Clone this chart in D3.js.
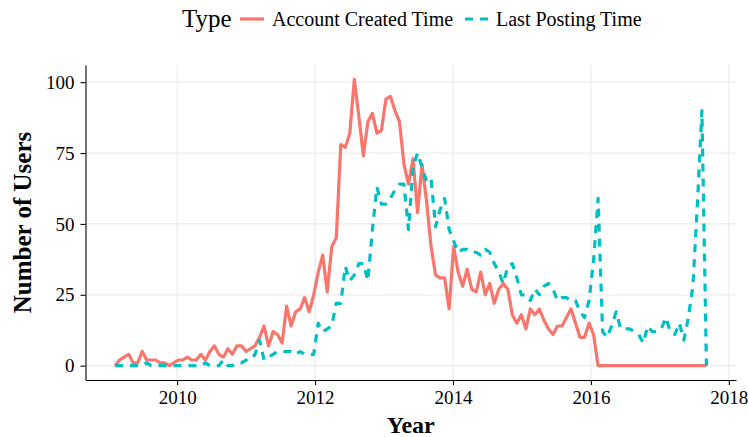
<!DOCTYPE html>
<html>
<head>
<meta charset="utf-8">
<script src="https://cdn.jsdelivr.net/npm/d3@7"></script>
<style>
  html, body { margin: 0; padding: 0; background: #ffffff; }
  svg { display: block; }
  text { font-family: "Liberation Serif", "Times New Roman", Times, serif; fill: #000; }
</style>
</head>
<body>
<svg id="chart" width="748" height="437"></svg>
<script>
// Frequency polygons of users over time, one bin every ~24 days.
const seriesNames = ["Account Created Time", "Last Posting Time"];
const seriesColors = ["#F8766D", "#00BFC4"];

const binStart = 2009.10;   // centre of the first bin (decimal year)
const binWidth = 0.06546;   // bin width in years

const createdCounts = [
  0, 2, 3, 4, 1, 1, 5, 2, 2, 2,
  1, 1, 0, 1, 2, 2, 3, 2, 2, 4,
  2, 5, 7, 4, 3, 6, 4, 7, 7, 5,
  6, 7, 10, 14, 7, 12, 11, 8, 21, 14,
  19, 20, 24, 19, 25, 33, 39, 26, 42, 45,
  78, 77, 82, 101, 88, 74, 86, 89, 82, 83,
  94, 95, 90, 86, 71, 64, 73, 54, 71, 58,
  42, 32, 31, 31, 20, 42, 33, 28, 34, 27,
  26, 33, 25, 29, 22, 27, 29, 27, 18, 15,
  18, 13, 20, 18, 20, 16, 13, 11, 14, 14,
  17, 20, 15, 10, 10, 15, 11, 0, 0, 0,
  0, 0, 0, 0, 0, 0, 0, 0, 0, 0,
  0, 0, 0, 0, 0, 0, 0, 0, 0, 0,
  0, 0
];

const lastPostCounts = [
  0, 0, 0, 0, 0, 0, 0, 1, 0, 0,
  0, 0, 0, 0, 0, 0, 0, 0, 0, 0,
  1, 0, 0, 0, 2, 0, 0, 1, 1, 2,
  2, 4, 9, 2, 3, 4, 5, 5, 5, 5,
  4, 5, 4, 4, 4, 15, 12, 13, 14, 22,
  22, 35, 30, 32, 36, 36, 30, 48, 63, 57,
  57, 59, 62, 64, 64, 48, 70, 75, 70, 65,
  66, 49, 55, 59, 48, 44, 40, 41, 41, 40,
  40, 39, 41, 40, 36, 33, 29, 35, 36, 31,
  25, 25, 23, 27, 25, 28, 29, 27, 23, 24,
  24, 23, 23, 19, 17, 23, 37, 59, 12, 10,
  14, 19, 13, 13, 13, 12, 11, 8, 14, 12,
  12, 13, 17, 12, 11, 15, 9, 17, 28, 57,
  90, 0
];

const xTicks = [2010, 2012, 2014, 2016, 2018];
const yTicks = [0, 25, 50, 75, 100];

const legendTitle = "Type";
const xTitle = "Year";
const yTitle = "Number of Users";

// ---- layout ----
const panel = { left: 85.5, right: 736, top: 65, bottom: 380 };

const binCentres = createdCounts.map((_, i) => binStart + i * binWidth);
const series = [createdCounts, lastPostCounts].map((vals, k) => ({
  name: seriesNames[k],
  color: seriesColors[k],
  points: vals.map((v, i) => ({ year: binCentres[i], value: v }))
}));

// ggplot-style 5% expansion on both axes
const xExt = d3.extent(binCentres);
const xPad = (xExt[1] - xExt[0]) * 0.05;
const yMax = d3.max(series, s => d3.max(s.points, p => p.value));
const yPad = yMax * 0.05;

const x = d3.scaleLinear()
  .domain([xExt[0] - xPad, xExt[1] + xPad])
  .range([panel.left, panel.right]);
const y = d3.scaleLinear()
  .domain([-yPad, yMax + yPad])
  .range([panel.bottom, panel.top]);

const svg = d3.select("#chart");
svg.append("rect").attr("width", 748).attr("height", 437).attr("fill", "#ffffff");

// grid
const grid = svg.append("g").attr("stroke", "#EBEBEB").attr("stroke-width", 1.2);
grid.selectAll("line.h").data(yTicks).join("line")
  .attr("x1", panel.left).attr("x2", panel.right)
  .attr("y1", d => y(d)).attr("y2", d => y(d));
grid.selectAll("line.v").data(xTicks).join("line")
  .attr("x1", d => x(d)).attr("x2", d => x(d))
  .attr("y1", panel.top).attr("y2", panel.bottom);

// lines
const line = d3.line().x(d => x(d.year)).y(d => y(d.value));
svg.append("g").selectAll("path").data(series).join("path")
  .attr("d", d => line(d.points))
  .attr("fill", "none")
  .attr("stroke", d => d.color)
  .attr("stroke-width", 3.2)
  .attr("stroke-linejoin", "round")
  .attr("stroke-linecap", "butt")
  .attr("stroke-dasharray", (d, i) => i === 1 ? "8,7" : null);

// axes
const xAxis = svg.append("g")
  .attr("transform", `translate(0,${panel.bottom})`)
  .call(d3.axisBottom(x).tickValues(xTicks).tickFormat(d3.format("d"))
    .tickSize(5).tickSizeOuter(0).tickPadding(6));
const yAxis = svg.append("g")
  .attr("transform", `translate(${panel.left},0)`)
  .call(d3.axisLeft(y).tickValues(yTicks).tickSize(5).tickSizeOuter(0).tickPadding(6));

[xAxis, yAxis].forEach(a => {
  a.select(".domain").attr("stroke", "#000").attr("stroke-width", 1.1);
  a.selectAll(".tick line").attr("stroke", "#000").attr("stroke-width", 1.1);
  a.selectAll(".tick text").attr("font-size", 19).attr("fill", "#000")
    .style("font-family", "'Liberation Serif', 'Times New Roman', serif");
});
xAxis.attr("font-size", 19);
yAxis.attr("font-size", 19);

// axis titles
svg.append("text")
  .attr("x", (panel.left + panel.right) / 2).attr("y", 433)
  .attr("text-anchor", "middle")
  .attr("font-size", 24).attr("font-weight", "bold")
  .text(xTitle);
svg.append("text")
  .attr("transform", `translate(31,${(panel.top + panel.bottom) / 2}) rotate(-90)`)
  .attr("text-anchor", "middle")
  .attr("font-size", 25).attr("font-weight", "bold")
  .text(yTitle);

// legend
const legend = svg.append("g");
legend.append("text").attr("x", 182).attr("y", 27)
  .attr("font-size", 25).text(legendTitle);
const keyX = [240, 465];
const labelX = [272, 496];
series.forEach((s, i) => {
  legend.append("line")
    .attr("x1", keyX[i]).attr("x2", keyX[i] + 24)
    .attr("y1", 19).attr("y2", 19)
    .attr("stroke", s.color).attr("stroke-width", 3.2)
    .attr("stroke-dasharray", i === 1 ? "8,7" : null);
  legend.append("text").attr("x", labelX[i]).attr("y", 26)
    .attr("font-size", 20).text(s.name);
});
</script>
</body>
</html>
